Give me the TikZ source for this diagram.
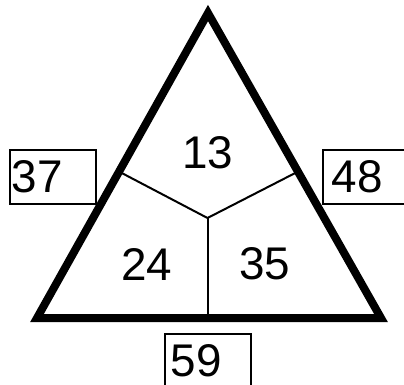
\documentclass[tikz,border=0pt]{standalone}
\usepackage{fontspec}
\setmainfont{Liberation Sans}
\usetikzlibrary{calc}
\tikzset{
  tri/.style={line width=8bp, line join=miter},
  divider/.style={line width=2bp},
  lbl/.style={font=\fontsize{46}{54}\selectfont, inner sep=0pt},
  numbox/.style={draw, line width=1.6bp, font=\fontsize{46}{54}\selectfont,
    minimum height=54bp, inner ysep=0pt, inner xsep=#1, text width=86bp-2*#1, align=left, anchor=north west},
}
\begin{document}
\begin{tikzpicture}[x=1bp,y=-1bp]
\clip (0,0) rectangle (404,385);
\fill[white] (0,0) rectangle (404,385);
\coordinate (A) at (208,13);
\coordinate (B) at (37,318);
\coordinate (C) at (381,318);
\coordinate (O) at (207.5,218);
\coordinate (L) at ($(A)!0.52!(B)$);
\coordinate (R) at ($(A)!0.52!(C)$);
\coordinate (D) at ($(B)!(O)!(C)$);
\draw[divider] (O) -- (L);
\draw[divider] (O) -- (R);
\draw[divider] (O) -- (D);
\draw[tri] (A) -- (B) -- (C) -- cycle;
\node[lbl] (n13) at (207.5,153) {13};
\node[lbl] (n24) at (147,264) {24};
\node[lbl] (n35) at (265,264) {35};
\node[numbox=2bp] (b37) at (9,149) {37};
\node[numbox=9bp] (b48) at (322,149) {48};
\node[numbox=6bp] (b59) at (164,333) {59};
\end{tikzpicture}
\end{document}
